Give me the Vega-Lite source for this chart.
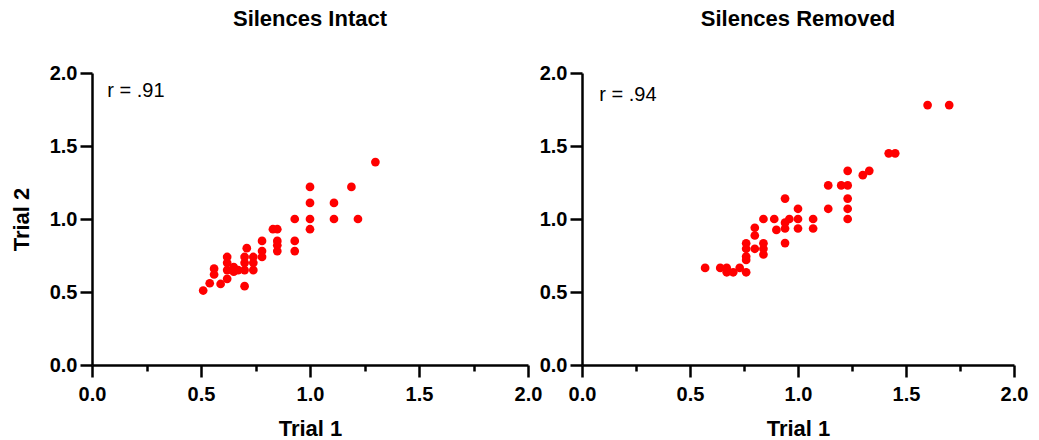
{
  "$schema": "https://vega.github.io/schema/vega-lite/v6.json",
  "padding": {"left": 10, "top": 8, "right": 5, "bottom": 3},
  "background": "white",
  "datasets": {
    "intact": [
      {"t1": 1.30, "t2": 1.39}, {"t1": 1.00, "t2": 1.22}, {"t1": 1.19, "t2": 1.22},
      {"t1": 1.00, "t2": 1.11}, {"t1": 1.11, "t2": 1.11}, {"t1": 0.93, "t2": 1.00},
      {"t1": 1.00, "t2": 1.00}, {"t1": 1.11, "t2": 1.00}, {"t1": 1.22, "t2": 1.00},
      {"t1": 1.00, "t2": 0.93}, {"t1": 0.83, "t2": 0.93}, {"t1": 0.85, "t2": 0.93},
      {"t1": 0.78, "t2": 0.85}, {"t1": 0.85, "t2": 0.85}, {"t1": 0.93, "t2": 0.85},
      {"t1": 0.85, "t2": 0.82}, {"t1": 0.78, "t2": 0.78}, {"t1": 0.85, "t2": 0.78},
      {"t1": 0.93, "t2": 0.78}, {"t1": 0.71, "t2": 0.80}, {"t1": 0.78, "t2": 0.74},
      {"t1": 0.62, "t2": 0.74}, {"t1": 0.70, "t2": 0.74}, {"t1": 0.74, "t2": 0.74},
      {"t1": 0.62, "t2": 0.70}, {"t1": 0.70, "t2": 0.70}, {"t1": 0.74, "t2": 0.70},
      {"t1": 0.62, "t2": 0.65}, {"t1": 0.65, "t2": 0.67}, {"t1": 0.67, "t2": 0.65},
      {"t1": 0.70, "t2": 0.65}, {"t1": 0.74, "t2": 0.65}, {"t1": 0.65, "t2": 0.64},
      {"t1": 0.56, "t2": 0.66}, {"t1": 0.56, "t2": 0.62}, {"t1": 0.62, "t2": 0.59},
      {"t1": 0.59, "t2": 0.555}, {"t1": 0.54, "t2": 0.56}, {"t1": 0.70, "t2": 0.54},
      {"t1": 0.51, "t2": 0.51}
    ],
    "removed": [
      {"t1": 1.60, "t2": 1.78}, {"t1": 1.70, "t2": 1.78}, {"t1": 1.42, "t2": 1.45},
      {"t1": 1.45, "t2": 1.45}, {"t1": 1.23, "t2": 1.33}, {"t1": 1.30, "t2": 1.30},
      {"t1": 1.33, "t2": 1.33}, {"t1": 1.14, "t2": 1.23}, {"t1": 1.20, "t2": 1.23},
      {"t1": 1.23, "t2": 1.23}, {"t1": 1.23, "t2": 1.14}, {"t1": 1.23, "t2": 1.07},
      {"t1": 1.23, "t2": 1.00}, {"t1": 1.14, "t2": 1.07}, {"t1": 1.00, "t2": 1.07},
      {"t1": 0.94, "t2": 1.14}, {"t1": 1.07, "t2": 1.00}, {"t1": 1.07, "t2": 0.935},
      {"t1": 1.00, "t2": 1.00}, {"t1": 1.00, "t2": 0.935}, {"t1": 0.96, "t2": 1.00},
      {"t1": 0.94, "t2": 0.975}, {"t1": 0.94, "t2": 0.935}, {"t1": 0.89, "t2": 1.00},
      {"t1": 0.90, "t2": 0.925}, {"t1": 0.84, "t2": 1.00}, {"t1": 0.94, "t2": 0.835},
      {"t1": 0.80, "t2": 0.94}, {"t1": 0.80, "t2": 0.887}, {"t1": 0.80, "t2": 0.796},
      {"t1": 0.76, "t2": 0.834}, {"t1": 0.76, "t2": 0.796}, {"t1": 0.76, "t2": 0.743},
      {"t1": 0.76, "t2": 0.72}, {"t1": 0.84, "t2": 0.834}, {"t1": 0.84, "t2": 0.796},
      {"t1": 0.84, "t2": 0.757}, {"t1": 0.76, "t2": 0.635}, {"t1": 0.73, "t2": 0.665},
      {"t1": 0.70, "t2": 0.635}, {"t1": 0.67, "t2": 0.665}, {"t1": 0.67, "t2": 0.635},
      {"t1": 0.64, "t2": 0.665}, {"t1": 0.57, "t2": 0.665}
    ]
  },
  "hconcat": [
    {
      "width": 436,
      "height": 292,
      "title": {"text": "Silences Intact"},
      "layer": [
        {
          "data": {"name": "intact"},
          "mark": {"type": "point", "filled": true, "color": "#ff0000", "opacity": 1, "size": 76, "strokeWidth": 0},
          "encoding": {
            "x": {"field": "t1", "type": "quantitative", "title": "Trial 1", "scale": {"domain": [0, 2], "nice": false},
                  "axis": {"values": [0, 0.25, 0.5, 0.75, 1, 1.25, 1.5, 1.75, 2], "labelOverlap": false, "labelBound": false}},
            "y": {"field": "t2", "type": "quantitative", "title": "Trial 2", "scale": {"domain": [0, 2], "nice": false},
                  "axis": {"values": [0, 0.25, 0.5, 0.75, 1, 1.25, 1.5, 1.75, 2], "labelOverlap": false, "labelBound": false}}
          }
        },
        {
          "data": {"values": [{"label": "r = .91"}]},
          "mark": {"type": "text", "align": "left", "baseline": "middle", "font": "Liberation Sans", "fontSize": 20, "color": "black"},
          "encoding": {
            "text": {"field": "label"},
            "x": {"datum": 0.07, "type": "quantitative"},
            "y": {"datum": 1.88, "type": "quantitative"}
          }
        }
      ]
    },
    {
      "width": 432,
      "height": 292,
      "title": {"text": "Silences Removed"},
      "layer": [
        {
          "data": {"name": "removed"},
          "mark": {"type": "point", "filled": true, "color": "#ff0000", "opacity": 1, "size": 76, "strokeWidth": 0},
          "encoding": {
            "x": {"field": "t1", "type": "quantitative", "title": "Trial 1", "scale": {"domain": [0, 2], "nice": false},
                  "axis": {"values": [0, 0.25, 0.5, 0.75, 1, 1.25, 1.5, 1.75, 2], "labelOverlap": false, "labelBound": false}},
            "y": {"field": "t2", "type": "quantitative", "title": null, "scale": {"domain": [0, 2], "nice": false},
                  "axis": {"values": [0, 0.25, 0.5, 0.75, 1, 1.25, 1.5, 1.75, 2], "labelOverlap": false, "labelBound": false}}
          }
        },
        {
          "data": {"values": [{"label": "r = .94"}]},
          "mark": {"type": "text", "align": "left", "baseline": "middle", "font": "Liberation Sans", "fontSize": 20, "color": "black"},
          "encoding": {
            "text": {"field": "label"},
            "x": {"datum": 0.08, "type": "quantitative"},
            "y": {"datum": 1.85, "type": "quantitative"}
          }
        }
      ]
    }
  ],
  "spacing": -3,
  "config": {
    "view": {"stroke": null},
    "title": {"font": "Liberation Sans", "fontSize": 22, "fontWeight": "bold", "color": "black", "anchor": "middle", "offset": 32},
    "axis": {
      "labelExpr": "(datum.value * 4) % 2 === 0 ? format(datum.value, '.1f') : ''",
      "labelOverlap": false,
      "labelFlush": false,
      "grid": false,
      "domainColor": "black",
      "domainWidth": 2.5,
      "tickColor": "black",
      "tickWidth": 2.5,
      "tickSize": {"condition": {"test": "(datum.value * 4) % 2 === 0", "value": 12}, "value": 6},
      "labelFont": "Liberation Sans",
      "labelFontSize": 20,
      "labelFontWeight": "bold",
      "labelColor": "black",
      "labelPadding": 3,
      "titleFont": "Liberation Sans",
      "titleFontSize": 22,
      "titleFontWeight": "bold",
      "titleColor": "black"
    },
    "axisX": {"labelPadding": 7, "titlePadding": 14},
    "axisY": {"titlePadding": 16}
  }
}
